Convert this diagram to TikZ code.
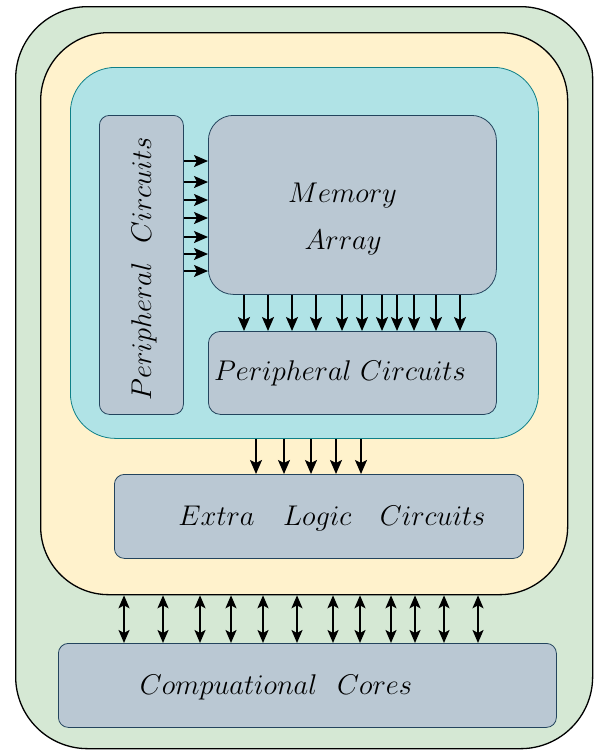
\RequirePackage{fix-cm}
\documentclass[tikz,border=0pt]{standalone}
\usetikzlibrary{arrows.meta}
\definecolor{greenfill}{HTML}{D5E8D4}
\definecolor{yellowfill}{HTML}{FFF2CC}
\definecolor{cyanfill}{HTML}{B0E3E6}
\definecolor{cyanline}{HTML}{0E8088}
\definecolor{blockfill}{HTML}{BAC8D3}
\definecolor{blockline}{HTML}{23445D}

\begin{document}
\begin{tikzpicture}[x=1pt,y=-1pt,
  layer/.style={draw=black, line width=1.3pt, rectangle, anchor=north west, inner sep=0pt},
  block/.style={draw=blockline, fill=blockfill, line width=0.8pt, rectangle, anchor=north west, inner sep=0pt},
  lbl/.style={font=\fontsize{28.5}{34}\selectfont, inner sep=0pt, text=black},
  arr/.style={line width=1.8pt, -{Stealth[length=14pt,width=12pt,inset=3pt]}},
  biarr/.style={line width=1.8pt, {Stealth[length=13pt,width=11pt,inset=3pt]}-{Stealth[length=13pt,width=11pt,inset=3pt]}}
]
\useasboundingbox (0,0) rectangle (596,750);

% nested regions
\node[layer, fill=greenfill, rounded corners=72pt, minimum width=577pt, minimum height=742pt] (chip) at (15,6) {};
\node[layer, fill=yellowfill, rounded corners=68pt, minimum width=527pt, minimum height=562pt] (nmc) at (40,32) {};
\node[draw=cyanline, fill=cyanfill, line width=0.8pt, rectangle, anchor=north west, inner sep=0pt,
      rounded corners=45pt, minimum width=468pt, minimum height=371pt] (macro) at (70,67) {};

% functional blocks
\node[block, rounded corners=10pt, minimum width=84pt, minimum height=299pt] (lp) at (99,115) {};
\node[block, rounded corners=25pt, minimum width=288pt, minimum height=179pt] (mem) at (208,115) {};
\node[block, rounded corners=12pt, minimum width=288pt, minimum height=83pt] (bp) at (208,331) {};
\node[block, rounded corners=10pt, minimum width=409pt, minimum height=84pt] (el) at (114,474) {};
\node[block, rounded corners=10pt, minimum width=498pt, minimum height=84pt] (cc) at (58,643) {};

% labels
\node[lbl, anchor=base] (memtxt) at (342.5,202) {$Memory$};
\node[lbl, anchor=base] (arrtxt) at (343,249) {$Array$};
\node[lbl, anchor=base, rotate=90] (lptxt) at (151,269) {$Peripheral\hspace{0.7em}Circuits$};
\node[lbl, anchor=base] (bptxt) at (340,380) {$Peripheral\ Circuits$};
\node[lbl, anchor=base] (eltxt) at (332,525) {$Extra\quad Logic\quad Circuits$};
\node[lbl, anchor=base] (cctxt) at (276,694) {$Compuational\hspace{0.7em}Cores$};

% connectors
\foreach \y in {161,182,200,218,237,254,271}
  \draw[arr] (lp.east |- 0,\y) -- (mem.west |- 0,\y);
\foreach \x in {244,268,292,316,342,362,382,397,414,436,460}
  \draw[arr] (mem.south -| \x,0) -- (bp.north -| \x,0);
\foreach \x in {256,284,311,336,361}
  \draw[arr] (macro.south -| \x,0) -- (el.north -| \x,0);
\foreach \x in {124,163,200,231,263,297,333,360,391,415,444,478}
  \draw[biarr] (nmc.south -| \x,0) -- (cc.north -| \x,0);
\end{tikzpicture}
\end{document}
